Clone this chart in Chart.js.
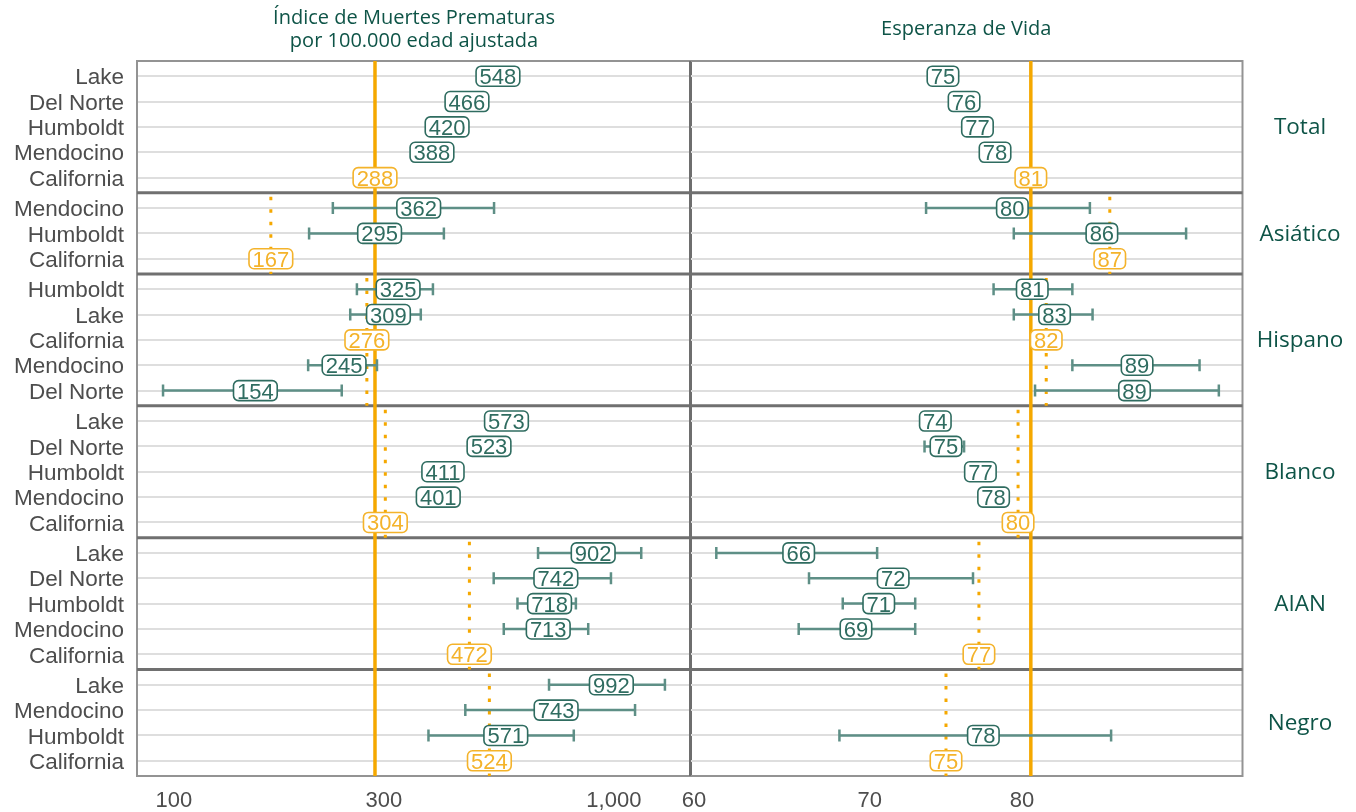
<!DOCTYPE html>
<html><head><meta charset="utf-8">
<script src="https://cdn.jsdelivr.net/npm/chart.js@4.4.1/dist/chart.umd.min.js"></script>
<style>
html,body{margin:0;padding:0;background:#fff;width:1356px;height:812px;overflow:hidden}
#wrapL{position:absolute;left:0;top:0;width:700px;height:812px}
#wrapR{position:absolute;left:660px;top:0;width:696px;height:812px}
canvas{display:block}
</style></head><body>
<div id="wrapL"><canvas id="cL" width="700" height="812"></canvas></div>
<div id="wrapR"><canvas id="cR" width="696" height="812"></canvas></div>
<script>
// ---------- DATA ----------
const groups = ['Total','Total','Total','Total','Total',
  'Asiático','Asiático','Asiático',
  'Hispano','Hispano','Hispano','Hispano','Hispano',
  'Blanco','Blanco','Blanco','Blanco','Blanco',
  'AIAN','AIAN','AIAN','AIAN','AIAN',
  'Negro','Negro','Negro','Negro'];
const places = ['Lake','Del Norte','Humboldt','Mendocino','California',
  'Mendocino','Humboldt','California',
  'Humboldt','Lake','California','Mendocino','Del Norte',
  'Lake','Del Norte','Humboldt','Mendocino','California',
  'Lake','Del Norte','Humboldt','Mendocino','California',
  'Lake','Mendocino','Humboldt','California'];
const premDeaths = [548,466,420,388,288, 362,295,167, 325,309,276,245,154, 573,523,411,401,304, 902,742,718,713,472, 992,743,571,524];
const premLow    = [null,null,null,null,null, 231,204,null, 262,253,null,203,95, null,null,null,null,null, 676,536,607,565,null, 716,462,381,null];
const premHigh   = [null,null,null,null,null, 537,413,null, 390,366,null,291,242, null,null,null,null,null, 1160,990,824,879,null, 1313,1123,815,null];
const lifeExp    = [74.9,76.3,77.2,78.4,80.9, 79.6,86.1,86.7, 81.0,82.6,82.0,88.8,88.6, 74.4,75.1,77.4,78.3,80.0, 66.0,71.7,70.8,69.4,77.3, null,null,77.6,75.1];
const lifeLow    = [null,75.4,null,null,null, 73.8,79.7,null, 78.3,79.7,null,83.9,81.2, null,73.7,null,null,null, 61.4,66.6,68.6,66.0,null, null,null,68.4,null];
const lifeHigh   = [null,77.2,null,null,null, 85.2,92.7,null, 83.9,85.4,null,93.8,95.4, null,76.3,null,null,null, 70.7,76.9,73.1,73.1,null, null,null,86.8,null];
const premTicks = [100, 300, 1000];
const lifeTicks = [60, 70, 80];
const premTitle = ['Índice de Muertes Prematuras', 'por 100.000 edad ajustada'];
const lifeTitle = ['Esperanza de Vida'];
const stateName = 'California';

// ---------- STYLE ----------
const TEAL = '#2f6c60', BAR = '#5e8f86', ORANGE = '#f5a800', ORANGE_LBL = '#f4b32b';
const GREEN_TXT = '#0e5447', AXIS_TXT = '#4d4d4d';
const SANS = '"Liberation Sans", Arial, sans-serif';
const TITLE_FONT = '"Open Sans", "Noto Sans", sans-serif';

// row layout (facet structure, ggplot-like 0.6 expansion)
const rowPos = []; const facets = [];
let cur = 0;
groups.forEach((g, i) => {
  if (i === 0) { facets.push({name: g, start: 0, rows: []}); cur = 0.6; }
  else if (g !== groups[i-1]) {
    cur += 0.6; facets[facets.length-1].end = cur;
    facets.push({name: g, start: cur, rows: []}); cur += 0.6;
  } else cur += 1;
  rowPos.push(cur);
  facets[facets.length-1].rows.push(i);
});
cur += 0.6; facets[facets.length-1].end = cur;
const yMax = cur;
facets.forEach(f => { f.state = f.rows.find(i => places[i] === stateName); });

function makePoints(vals, lows, highs, wantState) {
  const pts = [];
  vals.forEach((v, i) => {
    if (v == null) return;
    if ((places[i] === stateName) !== wantState) return;
    pts.push({x: v, y: rowPos[i], lo: lows[i], hi: highs[i], txt: String(Math.round(v))});
  });
  return pts;
}

function panelPlugin(cfg) {
  return {
    id: 'panel' + cfg.key,
    afterDatasetsDraw(chart) {
      const {ctx, chartArea: a} = chart;
      const x = chart.scales.x, y = chart.scales.y;
      ctx.save();
      // panel border
      ctx.strokeStyle = '#939393'; ctx.lineWidth = 2;
      ctx.strokeRect(a.left, a.top, a.right - a.left, a.bottom - a.top);
      // panel divider
      ctx.strokeStyle = '#6e6e6e'; ctx.lineWidth = 2;
      ctx.beginPath();
      const dx = cfg.key === 'L' ? a.right : a.left;
      ctx.moveTo(dx, a.top); ctx.lineTo(dx, a.bottom); ctx.stroke();
      // facet separators
      ctx.strokeStyle = '#707070'; ctx.lineWidth = 3;
      facets.slice(0, -1).forEach(f => {
        const py = y.getPixelForValue(f.end);
        ctx.beginPath(); ctx.moveTo(a.left, py); ctx.lineTo(a.right, py); ctx.stroke();
      });
      // reference lines (state values)
      facets.forEach((f, k) => {
        const v = cfg.values[f.state];
        if (v == null) return;
        const px = x.getPixelForValue(v);
        ctx.strokeStyle = ORANGE;
        if (k === 0) {
          ctx.lineWidth = 3.5; ctx.setLineDash([]);
          ctx.beginPath(); ctx.moveTo(px, a.top); ctx.lineTo(px, a.bottom); ctx.stroke();
        } else {
          ctx.lineWidth = 3; ctx.setLineDash([3.5, 9]);
          ctx.beginPath(); ctx.moveTo(px, y.getPixelForValue(f.start) + 4); ctx.lineTo(px, y.getPixelForValue(f.end)); ctx.stroke();
        }
      });
      ctx.setLineDash([]);
      // error bars
      chart.data.datasets.forEach((ds, di) => {
        const meta = chart.getDatasetMeta(di);
        ds.data.forEach((p, j) => {
          if (p.lo == null || p.hi == null) return;
          const el = meta.data[j];
          const x1 = x.getPixelForValue(p.lo), x2 = x.getPixelForValue(p.hi);
          ctx.strokeStyle = ds.barColor; ctx.lineWidth = 2.5;
          ctx.beginPath();
          ctx.moveTo(x1, el.y); ctx.lineTo(x2, el.y);
          ctx.moveTo(x1, el.y - 6); ctx.lineTo(x1, el.y + 6);
          ctx.moveTo(x2, el.y - 6); ctx.lineTo(x2, el.y + 6);
          ctx.stroke();
        });
      });
      // labels
      ctx.font = '22px ' + SANS;
      chart.data.datasets.forEach((ds, di) => {
        const meta = chart.getDatasetMeta(di);
        ds.data.forEach((p, j) => {
          const el = meta.data[j];
          const tw = ctx.measureText(p.txt).width;
          const w = tw + 7, h = 20;
          ctx.beginPath();
          ctx.roundRect(el.x - w/2, el.y - h/2, w, h, 5);
          ctx.fillStyle = '#ffffff'; ctx.fill();
          ctx.strokeStyle = ds.labelColor; ctx.lineWidth = 1.6; ctx.stroke();
          ctx.fillStyle = ds.labelColor;
          ctx.textAlign = 'center'; ctx.textBaseline = 'alphabetic';
          ctx.fillText(p.txt, el.x, el.y + 8);
        });
      });
      // titles
      ctx.fillStyle = GREEN_TXT; ctx.textAlign = 'center'; ctx.textBaseline = 'middle';
      ctx.font = '20px ' + TITLE_FONT;
      const cx = (a.left + a.right) / 2;
      cfg.title.forEach((t, k) => ctx.fillText(t, cx, cfg.titleY[k]));
      // facet strip labels
      if (cfg.strips) {
        ctx.font = '22.5px ' + TITLE_FONT;
        facets.forEach(f => {
          const py = (y.getPixelForValue(f.start) + y.getPixelForValue(f.end)) / 2;
          ctx.fillText(f.name, a.right + 57.5, py + 1);
        });
      }
      ctx.restore();
    }
  };
}

function buildChart(id, cfg) {
  return new Chart(document.getElementById(id), {
    type: 'scatter',
    data: {datasets: [
      {label: 'Condado', data: makePoints(cfg.values, cfg.lows, cfg.highs, false), pointRadius: 0, labelColor: TEAL, barColor: BAR},
      {label: stateName, data: makePoints(cfg.values, cfg.lows, cfg.highs, true), pointRadius: 0, labelColor: ORANGE_LBL, barColor: ORANGE}
    ]},
    options: {
      responsive: false, animation: false, devicePixelRatio: 1,
      layout: {padding: {top: 61, bottom: 0, left: 0, right: cfg.padRight}},
      plugins: {legend: {display: false}, tooltip: {enabled: false}, title: {display: false}},
      scales: {
        x: {
          type: 'logarithmic', position: 'bottom', min: cfg.min, max: cfg.max,
          afterBuildTicks: s => { s.ticks = cfg.ticks.map(v => ({value: v})); },
          afterFit: s => { s.height = 36; },
          grid: {display: false, drawTicks: false, tickLength: 0},
          border: {display: false},
          ticks: {autoSkip: false, maxRotation: 0, padding: 12, color: AXIS_TXT,
                  labelOffset: cfg.xLabelOffset,
                  font: {size: 22, family: SANS},
                  callback: v => Number(v).toLocaleString('en-US')}
        },
        y: {
          type: 'linear', min: 0, max: yMax, reverse: true,
          afterBuildTicks: s => { s.ticks = rowPos.map(v => ({value: v})); },
          afterFit: s => { s.width = cfg.yWidth; },
          grid: {color: '#dedede', lineWidth: 2, drawTicks: false, tickLength: 0},
          border: {display: false},
          ticks: {display: cfg.showY, autoSkip: false, padding: 13, color: AXIS_TXT,
                  labelOffset: 2,
                  font: {size: 22.5, family: SANS},
                  callback: (v, i) => places[i]}
        }
      }
    },
    plugins: [panelPlugin(cfg)]
  });
}

buildChart('cL', {key: 'L', values: premDeaths, lows: premLow, highs: premHigh,
  min: 82.9, max: 1505, ticks: premTicks, showY: true, yWidth: 137, padRight: 9, xLabelOffset: 1,
  title: premTitle, titleY: [18, 41], strips: false});
buildChart('cR', {key: 'R', values: lifeExp, lows: lifeLow, highs: lifeHigh,
  min: 60, max: 97.4, ticks: lifeTicks, showY: false, yWidth: 30, padRight: 113.5, xLabelOffset: 4,
  title: lifeTitle, titleY: [29], strips: true});
</script>
</body></html>
